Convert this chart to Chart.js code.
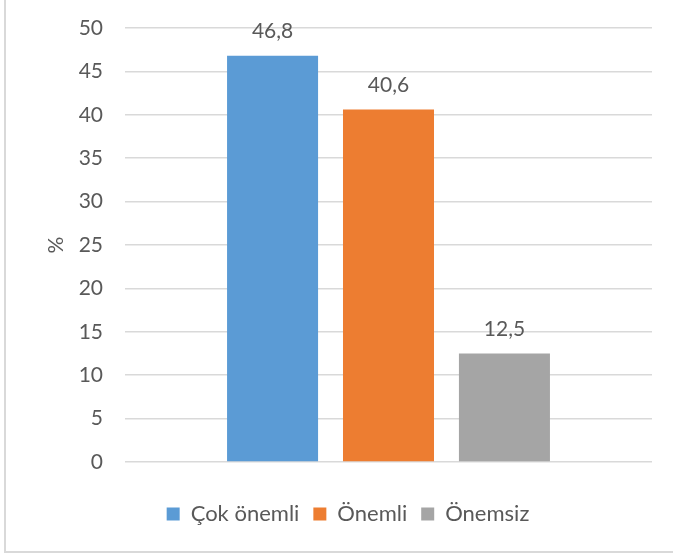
<!DOCTYPE html>
<html>
<head>
<meta charset="utf-8">
<script src="https://cdn.jsdelivr.net/npm/chart.js@4/dist/chart.umd.min.js"></script>
<style>
    body { margin: 0; background: #ffffff; overflow: hidden; }
    #wrap { position: relative; width: 673px; height: 555px; overflow: hidden; }
    #frame {
        position: absolute; left: 4px; top: -10px; width: 700px; height: 563px;
        box-sizing: border-box; border: 2px solid #d9d9d9;
    }
    #grafico { position: absolute; left: 0; top: 0; }
</style>
</head>
<body>
<div id="wrap">
    <div id="frame"></div>
    <canvas id="grafico" width="673" height="555"></canvas>
</div>
<script>
// dados do gráfico
var categorias = ["Çok önemli", "Önemli", "Önemsiz"]
var valores = [46.8, 40.6, 12.5]
var cores = ["#5b9bd5", "#ed7d31", "#a5a5a5"]
var eixoY = { min: 0, max: 50, passo: 5 }
var tituloY = "%"

var fonte = "Lato, 'Open Sans', sans-serif"
var corTexto = "#595959"

// escreve o valor em cima de cada barra (com vírgula)
var rotulos = {
    id: "rotulos",
    afterDatasetsDraw: function (chart) {
        var ctx = chart.ctx
        ctx.save()
        ctx.font = "21px " + fonte
        ctx.fillStyle = corTexto
        ctx.textAlign = "center"
        ctx.textBaseline = "alphabetic"
        chart.data.datasets.forEach(function (ds, i) {
            var barra = chart.getDatasetMeta(i).data[0]
            var texto = String(ds.data[0]).replace(".", ",")
            ctx.fillText(texto, barra.x, barra.y - 18)
        })
        ctx.restore()
    }
}

var datasets = categorias.map(function (nome, i) {
    return {
        label: nome,
        data: [valores[i]],
        backgroundColor: cores[i],
        borderWidth: 0,
        categoryPercentage: 0.66,
        barPercentage: 0.785
    }
})

var canvas = document.getElementById("grafico")

var grafico = new Chart(canvas, {
    type: "bar",
    data: {
        labels: [""],
        datasets: datasets
    },
    options: {
        responsive: false,
        animation: false,
        layout: {
            padding: { left: 44, right: 21, top: 28, bottom: 20 }
        },
        plugins: {
            tooltip: { enabled: false },
            legend: {
                position: "bottom",
                labels: {
                    boxWidth: 13,
                    boxHeight: 13,
                    padding: 14,
                    color: corTexto,
                    font: { family: fonte, size: 22 }
                }
            }
        },
        scales: {
            x: {
                grid: { display: false },
                border: { display: false },
                ticks: { display: false },
                afterFit: function (escala) { escala.height = 27 }
            },
            y: {
                min: eixoY.min,
                max: eixoY.max,
                ticks: {
                    stepSize: eixoY.passo,
                    padding: 22,
                    color: corTexto,
                    font: { family: fonte, size: 21 }
                },
                grid: { color: "#d9d9d9", lineWidth: 1.5, drawTicks: false },
                border: { display: false },
                title: {
                    display: true,
                    text: tituloY,
                    color: corTexto,
                    padding: 0,
                    font: { family: fonte, size: 21 }
                },
                afterFit: function (escala) {
                    escala.width = 81
                    escala.paddingTop = 0
                    escala.paddingBottom = 0
                }
            }
        }
    },
    plugins: [rotulos]
})
</script>
</body>
</html>
